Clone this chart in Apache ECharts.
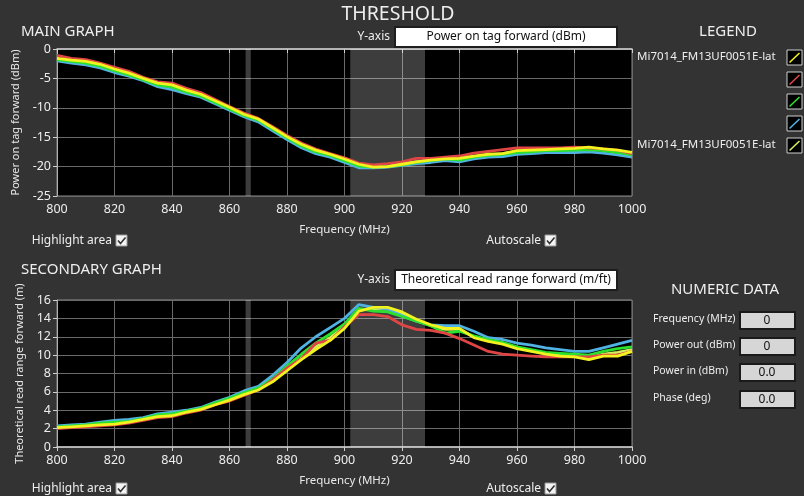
<!DOCTYPE html>
<html lang="en">
<head>
    <meta charset="UTF-8">
    <title>Threshold</title>
    <script src="https://cdn.jsdelivr.net/npm/echarts@6/dist/echarts.min.js"></script>
    <style>
        html, body {margin: 0; padding: 0; background: #333;}
        #chart {width: 804px; height: 496px;}
    </style>
</head>
<body>
<div id="chart"></div>
<script>
    // frequency points (MHz)
    var freq = [800, 805, 810, 815, 820, 825, 830, 835, 840, 845, 850, 855, 860, 865, 870, 875, 880, 885, 890, 895,
        900, 905, 910, 915, 920, 925, 930, 935, 940, 945, 950, 955, 960, 965, 970, 975, 980, 985, 990, 995, 1000];

    // main graph: power on tag forward (dBm)
    var mainYellow = [-1.6, -1.9, -2.1, -2.6, -3.4, -4.1, -5.0, -5.8, -6.1, -7.0, -7.7, -8.8, -9.9, -11.1, -11.9, -13.4, -14.9, -16.2, -17.2, -17.9,
        -18.7, -19.6, -20.1, -20.0, -19.6, -19.2, -18.9, -18.7, -18.6, -18.2, -17.9, -17.8, -17.3, -17.2, -17.1, -17.0, -16.9, -16.7, -17.0, -17.2, -17.6];
    var mainRed = [-1.1, -1.6, -1.8, -2.4, -3.1, -3.8, -4.8, -5.6, -5.8, -6.7, -7.4, -8.6, -9.8, -10.9, -11.8, -13.2, -14.7, -16.0, -17.0, -17.8,
        -18.5, -19.4, -19.7, -19.5, -19.2, -18.6, -18.6, -18.4, -18.2, -17.7, -17.4, -17.1, -16.8, -16.8, -16.8, -16.8, -16.7, -16.8, -17.0, -17.2, -17.8];
    var mainGreen = [-1.8, -2.1, -2.4, -2.9, -3.7, -4.4, -5.2, -6.1, -6.5, -7.3, -8.0, -9.1, -10.2, -11.3, -12.1, -13.6, -15.1, -16.5, -17.5, -18.1,
        -19.0, -19.9, -20.1, -20.0, -19.7, -19.3, -19.0, -18.7, -18.9, -18.4, -18.1, -17.9, -17.6, -17.5, -17.3, -17.3, -17.2, -17.1, -17.3, -17.6, -18.0];
    var mainBlue = [-2.0, -2.4, -2.7, -3.2, -4.0, -4.6, -5.4, -6.4, -6.9, -7.6, -8.2, -9.3, -10.4, -11.5, -12.4, -13.9, -15.4, -16.8, -17.8, -18.4,
        -19.3, -20.2, -20.2, -20.1, -19.8, -19.5, -19.3, -19.0, -19.2, -18.7, -18.4, -18.3, -17.9, -17.8, -17.6, -17.6, -17.6, -17.5, -17.7, -18.0, -18.4];
    var mainLime = [-1.7, -2.0, -2.2, -2.7, -3.5, -4.2, -5.1, -5.9, -6.3, -7.1, -7.8, -8.9, -10.0, -11.2, -12.0, -13.5, -15.0, -16.3, -17.3, -18.0,
        -18.8, -19.7, -20.1, -20.0, -19.6, -19.2, -18.9, -18.7, -18.7, -18.3, -18.0, -17.8, -17.4, -17.3, -17.2, -17.1, -17.0, -16.8, -17.1, -17.3, -17.7];

    // secondary graph: theoretical read range forward (m)
    var secYellow = [2.1, 2.2, 2.3, 2.4, 2.5, 2.7, 3.0, 3.3, 3.4, 3.8, 4.1, 4.6, 5.1, 5.7, 6.2, 7.1, 8.3, 9.5, 10.6, 11.6,
        12.9, 14.8, 15.2, 15.2, 14.7, 13.9, 13.3, 12.9, 12.9, 11.9, 11.5, 11.2, 10.7, 10.4, 10.1, 9.9, 9.8, 9.5, 9.9, 9.9, 10.4];
    var secRed = [2.0, 2.1, 2.2, 2.3, 2.4, 2.6, 2.9, 3.2, 3.3, 3.7, 4.0, 4.6, 5.0, 5.6, 6.2, 7.3, 8.6, 9.6, 11.3, 11.6,
        13.1, 14.4, 14.4, 14.2, 13.3, 12.8, 12.7, 12.4, 11.8, 11.1, 10.4, 10.1, 10.0, 9.9, 9.8, 9.8, 9.8, 9.8, 10.0, 10.0, 10.4];
    var secGreen = [2.2, 2.3, 2.4, 2.6, 2.7, 2.8, 3.1, 3.5, 3.6, 3.9, 4.2, 4.8, 5.3, 5.9, 6.4, 7.4, 8.8, 10.1, 11.3, 12.3,
        13.4, 15.1, 14.8, 14.7, 14.2, 13.7, 13.2, 12.4, 12.6, 12.1, 11.7, 11.4, 10.9, 10.6, 10.3, 10.2, 10.1, 10.0, 10.4, 10.7, 10.9];
    var secBlue = [2.3, 2.4, 2.5, 2.7, 2.9, 3.0, 3.2, 3.6, 3.8, 4.0, 4.3, 4.9, 5.4, 6.1, 6.6, 7.8, 9.2, 10.8, 12.0, 13.0,
        14.0, 15.5, 15.2, 15.0, 14.3, 13.7, 13.3, 13.2, 13.2, 12.6, 11.9, 11.7, 11.3, 11.1, 10.8, 10.6, 10.4, 10.4, 10.8, 11.2, 11.6];
    var secLime = [2.1, 2.2, 2.3, 2.5, 2.6, 2.8, 3.0, 3.4, 3.5, 3.8, 4.1, 4.7, 5.2, 5.8, 6.3, 7.2, 8.5, 9.7, 10.9, 11.9,
        13.1, 14.9, 15.0, 15.0, 14.5, 13.8, 13.2, 12.8, 12.8, 12.0, 11.6, 11.3, 10.8, 10.5, 10.2, 10.0, 9.9, 9.7, 10.1, 10.3, 10.6];

    var legendNames = ['Mi7014_FM13UF0051E-lat', '', '', '', 'Mi7014_FM13UF0051E-lat'];
    var numericLabels = ['Frequency (MHz)', 'Power out (dBm)', 'Power in (dBm)', 'Phase (deg)'];
    var numericValues = ['0', '0', '0.0', '0.0'];

    var colors = ['#f2f21e', '#e04545', '#2ee02e', '#4fb2e2', '#d6ec5c'];
    var font = '"Noto Sans", "DejaVu Sans", sans-serif';

    function pairs(ys) {
        var out = [];
        for (var i = 0; i < freq.length; i++) out.push([freq[i], ys[i]]);
        return out;
    }

    var bands = {
        silent: true,
        itemStyle: {color: 'rgba(255,255,255,0.24)'},
        data: [
            [{xAxis: 865.6}, {xAxis: 867.4}],
            [{xAxis: 902}, {xAxis: 928}]
        ]
    };

    function line(idx, ys, color, withBands) {
        var s = {
            type: 'line', xAxisIndex: idx, yAxisIndex: idx,
            data: pairs(ys), showSymbol: false, animation: false,
            lineStyle: {color: color, width: 2.8}
        };
        if (withBands) s.markArea = bands;
        return s;
    }

    function xAxis(idx) {
        return {
            gridIndex: idx, type: 'value', min: 800, max: 1000, interval: 20,
            name: 'Frequency (MHz)', nameLocation: 'middle', nameGap: 28,
            nameTextStyle: {color: '#e8e8e8', fontSize: 11.5, fontFamily: font},
            axisLine: {lineStyle: {color: '#d0d0d0', width: 1.5}},
            axisTick: {lineStyle: {color: '#d0d0d0'}, length: 4},
            axisLabel: {color: '#eeeeee', fontSize: 12.5, fontFamily: font, margin: 7,
                formatter: function (v) { return String(v); }},
            splitLine: {lineStyle: {color: '#6a6a6a', width: 1}}
        };
    }

    function yAxis(idx, min, max, interval, name) {
        return {
            gridIndex: idx, type: 'value', min: min, max: max, interval: interval,
            name: name, nameLocation: 'middle', nameGap: 29,
            nameTextStyle: {color: '#e8e8e8', fontSize: 11, fontFamily: font},
            axisLine: {show: true, lineStyle: {color: '#b0b0b0'}},
            axisTick: {show: true, lineStyle: {color: '#d0d0d0'}, length: 4},
            axisLabel: {color: '#eeeeee', fontSize: 12.5, fontFamily: font, margin: 6},
            splitLine: {lineStyle: {color: '#6a6a6a', width: 1}}
        };
    }

    function text(x, y, str, size, align, color) {
        return {
            type: 'text', x: x, y: y, silent: true,
            style: {text: str, fill: color || '#eeeeee', font: size + 'px ' + font, textAlign: align || 'left', textVerticalAlign: 'middle'}
        };
    }

    function checkbox(x, y) {
        return [
            {type: 'rect', shape: {x: x, y: y, width: 11, height: 11}, style: {fill: '#f4f4f4', stroke: '#999'}},
            {type: 'polyline', shape: {points: [[x + 2, y + 5.5], [x + 4.5, y + 8.5], [x + 9.5, y + 2.5]]},
                style: {stroke: '#333', lineWidth: 1.6, fill: null}}
        ];
    }

    function selector(y, str) {
        return [
            text(390, y + 10, 'Y-axis', 12, 'right'),
            {type: 'rect', shape: {x: 395, y: y, width: 222, height: 20}, style: {fill: '#ffffff', stroke: '#1e1e1e', lineWidth: 2}},
            text(506, y + 10, str, 12, 'center', '#111111')
        ];
    }

    var graphics = [];
    graphics.push(text(398, 14, 'THRESHOLD', 19.5, 'center'));
    graphics.push(text(21, 32, 'MAIN GRAPH', 15));
    graphics.push(text(21, 270, 'SECONDARY GRAPH', 15));
    graphics.push(text(728, 32, 'LEGEND', 15, 'center'));
    graphics.push(text(725, 290, 'NUMERIC DATA', 15, 'center'));
    graphics = graphics.concat(selector(27, 'Power on tag forward (dBm)'));
    graphics = graphics.concat(selector(270, 'Theoretical read range forward (m/ft)'));

    graphics.push(text(112, 241, 'Highlight area', 12, 'right'));
    graphics = graphics.concat(checkbox(116, 235));
    graphics.push(text(541, 241, 'Autoscale', 12, 'right'));
    graphics = graphics.concat(checkbox(545, 235));
    graphics.push(text(112, 489, 'Highlight area', 12, 'right'));
    graphics = graphics.concat(checkbox(116, 483));
    graphics.push(text(541, 489, 'Autoscale', 12, 'right'));
    graphics = graphics.concat(checkbox(545, 483));

    for (var i = 0; i < legendNames.length; i++) {
        var sy = 50 + i * 22;
        if (legendNames[i]) graphics.push(text(637, sy + 7, legendNames[i], 11.5));
        graphics.push({type: 'rect', shape: {x: 787, y: sy, width: 15, height: 15}, style: {fill: '#000', stroke: '#cfcfcf', lineWidth: 1}});
        graphics.push({type: 'line', shape: {x1: 789.5, y1: sy + 12.5, x2: 799.5, y2: sy + 3}, style: {stroke: colors[i], lineWidth: 1.6}});
    }

    for (var j = 0; j < numericLabels.length; j++) {
        var ny = [312, 338, 364, 391][j];
        graphics.push(text(653, ny + 7, numericLabels[j], 10.5));
        graphics.push({type: 'rect', shape: {x: 740, y: ny, width: 55, height: 17}, style: {fill: '#d6d6d6', stroke: '#1a1a1a', lineWidth: 2}});
        graphics.push(text(767, ny + 9, numericValues[j], 12, 'center', '#111111'));
    }

    var option = {
        backgroundColor: '#333333',
        animation: false,
        grid: [
            {left: 57, top: 49, width: 575, height: 147, show: true, backgroundColor: '#000000', borderColor: '#8a8a8a', borderWidth: 1},
            {left: 57, top: 300, width: 575, height: 147, show: true, backgroundColor: '#000000', borderColor: '#8a8a8a', borderWidth: 1}
        ],
        xAxis: [xAxis(0), xAxis(1)],
        yAxis: [
            yAxis(0, -25, 0, 5, 'Power on tag forward (dBm)'),
            yAxis(1, 0, 16, 2, 'Theoretical read range forward (m)')
        ],
        series: [
            line(0, mainLime, colors[4], true),
            line(0, mainBlue, colors[3]),
            line(0, mainGreen, colors[2]),
            line(0, mainRed, colors[1]),
            line(0, mainYellow, colors[0]),
            line(1, secLime, colors[4], true),
            line(1, secBlue, colors[3]),
            line(1, secGreen, colors[2]),
            line(1, secRed, colors[1]),
            line(1, secYellow, colors[0])
        ],
        graphic: graphics
    };

    var chart = echarts.init(document.getElementById('chart'));
    chart.setOption(option);
</script>
</body>
</html>
